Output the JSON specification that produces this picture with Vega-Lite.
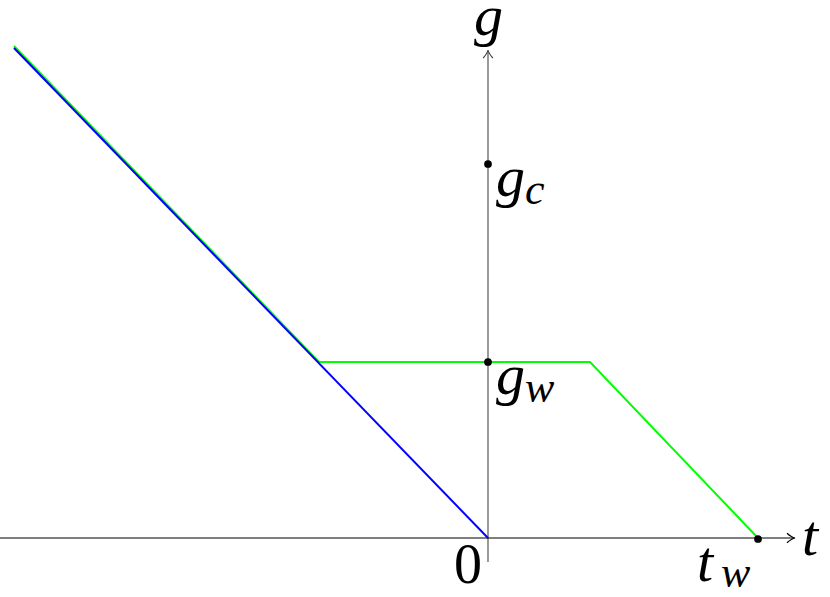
{
  "$schema": "https://vega.github.io/schema/vega-lite/v6.json",
  "width": 830,
  "height": 597,
  "autosize": {"type": "none"},
  "padding": 0,
  "background": "white",
  "config": {"view": {"stroke": null}},
  "datasets": {
    "lines": [
      {"series": "green", "step": 1, "t": -4.74, "g": 4.92},
      {"series": "green", "step": 2, "t": -1.69, "g": 1.76},
      {"series": "green", "step": 3, "t": 1.02, "g": 1.76},
      {"series": "green", "step": 4, "t": 2.70, "g": 0.0},
      {"series": "blue", "step": 1, "t": -4.74, "g": 4.90},
      {"series": "blue", "step": 2, "t": 0.0, "g": 0.0}
    ],
    "axes": [
      {"axis": "t", "t": -4.88, "t2": 3.06, "g": 0.0, "g2": 0.0},
      {"axis": "g", "t": 0.0, "t2": 0.0, "g": -0.24, "g2": 4.86}
    ],
    "arrows": [
      {"axis": "t", "t": 3.07, "g": 0.0},
      {"axis": "g", "t": 0.0, "g": 4.88}
    ],
    "points": [
      {"name": "g_c", "t": 0.0, "g": 3.74},
      {"name": "g_w", "t": 0.0, "g": 1.76},
      {"name": "t_w", "t": 2.70, "g": -0.01}
    ],
    "labels": [
      {"text": "g", "t": -0.14, "g": 5.03},
      {"text": "t", "t": 3.14, "g": -0.17},
      {"text": "g", "t": 0.08, "g": 3.42},
      {"text": "g", "t": 0.08, "g": 1.44},
      {"text": "t", "t": 2.09, "g": -0.43}
    ],
    "subs": [
      {"text": "c", "t": 0.37, "g": 3.34},
      {"text": "w", "t": 0.37, "g": 1.36},
      {"text": "w", "t": 2.33, "g": -0.49}
    ],
    "upright": [
      {"text": "0", "t": -0.34, "g": -0.45}
    ]
  },
  "layer": [
    {
      "data": {"name": "axes"},
      "transform": [{"filter": "datum.axis == 'g'"}],
      "mark": {"type": "rule", "color": "#808080", "strokeWidth": 1.6},
      "encoding": {
        "x": {"field": "t", "type": "quantitative", "scale": {"domain": [-4.88, 3.42], "nice": false, "zero": false}, "axis": null},
        "x2": {"field": "t2"},
        "y": {"field": "g", "type": "quantitative", "scale": {"domain": [-0.59, 5.38], "nice": false, "zero": false}, "axis": null},
        "y2": {"field": "g2"}
      }
    },
    {
      "data": {"name": "axes"},
      "transform": [{"filter": "datum.axis == 't'"}],
      "mark": {"type": "rule", "color": "#000000", "strokeWidth": 1.2},
      "encoding": {
        "x": {"field": "t", "type": "quantitative", "scale": {"domain": [-4.88, 3.42], "nice": false, "zero": false}, "axis": null},
        "x2": {"field": "t2"},
        "y": {"field": "g", "type": "quantitative", "scale": {"domain": [-0.59, 5.38], "nice": false, "zero": false}, "axis": null},
        "y2": {"field": "g2"}
      }
    },
    {
      "data": {"name": "arrows"},
      "transform": [{"filter": "datum.axis == 't'"}],
      "mark": {"type": "point", "shape": "M -1 -0.6 C -0.6 -0.25 -0.25 -0.05 0 0 C -0.25 0.05 -0.6 0.25 -1 0.6", "filled": false, "stroke": "#000000", "strokeWidth": 1.2, "size": 256, "opacity": 1},
      "encoding": {
        "x": {"field": "t", "type": "quantitative", "scale": {"domain": [-4.88, 3.42], "nice": false, "zero": false}, "axis": null},
        "y": {"field": "g", "type": "quantitative", "scale": {"domain": [-0.59, 5.38], "nice": false, "zero": false}, "axis": null}
      }
    },
    {
      "data": {"name": "arrows"},
      "transform": [{"filter": "datum.axis == 'g'"}],
      "mark": {"type": "point", "shape": "M -0.6 1 C -0.25 0.6 -0.05 0.25 0 0 C 0.05 0.25 0.25 0.6 0.6 1", "filled": false, "stroke": "#404040", "strokeWidth": 1.2, "size": 256, "opacity": 1},
      "encoding": {
        "x": {"field": "t", "type": "quantitative", "scale": {"domain": [-4.88, 3.42], "nice": false, "zero": false}, "axis": null},
        "y": {"field": "g", "type": "quantitative", "scale": {"domain": [-0.59, 5.38], "nice": false, "zero": false}, "axis": null}
      }
    },
    {
      "data": {"name": "lines"},
      "transform": [{"filter": "datum.series == 'green'"}],
      "mark": {"type": "line", "color": "#00ff00", "strokeWidth": 2},
      "encoding": {
        "x": {"field": "t", "type": "quantitative", "scale": {"domain": [-4.88, 3.42], "nice": false, "zero": false}, "axis": null},
        "y": {"field": "g", "type": "quantitative", "scale": {"domain": [-0.59, 5.38], "nice": false, "zero": false}, "axis": null},
        "order": {"field": "step", "type": "quantitative"}
      }
    },
    {
      "data": {"name": "lines"},
      "transform": [{"filter": "datum.series == 'blue'"}],
      "mark": {"type": "line", "color": "#0000ff", "strokeWidth": 2},
      "encoding": {
        "x": {"field": "t", "type": "quantitative", "scale": {"domain": [-4.88, 3.42], "nice": false, "zero": false}, "axis": null},
        "y": {"field": "g", "type": "quantitative", "scale": {"domain": [-0.59, 5.38], "nice": false, "zero": false}, "axis": null},
        "order": {"field": "step", "type": "quantitative"}
      }
    },
    {
      "data": {"name": "points"},
      "mark": {"type": "circle", "color": "#000000", "size": 60, "opacity": 1},
      "encoding": {
        "x": {"field": "t", "type": "quantitative", "scale": {"domain": [-4.88, 3.42], "nice": false, "zero": false}, "axis": null},
        "y": {"field": "g", "type": "quantitative", "scale": {"domain": [-0.59, 5.38], "nice": false, "zero": false}, "axis": null}
      }
    },
    {
      "data": {"name": "labels"},
      "mark": {"type": "text", "font": "Liberation Serif", "fontStyle": "italic", "fontSize": 58, "align": "left", "baseline": "alphabetic", "color": "#000000"},
      "encoding": {
        "x": {"field": "t", "type": "quantitative", "scale": {"domain": [-4.88, 3.42], "nice": false, "zero": false}, "axis": null},
        "y": {"field": "g", "type": "quantitative", "scale": {"domain": [-0.59, 5.38], "nice": false, "zero": false}, "axis": null},
        "text": {"field": "text"}
      }
    },
    {
      "data": {"name": "subs"},
      "mark": {"type": "text", "font": "Liberation Serif", "fontStyle": "italic", "fontSize": 44, "align": "left", "baseline": "alphabetic", "color": "#000000"},
      "encoding": {
        "x": {"field": "t", "type": "quantitative", "scale": {"domain": [-4.88, 3.42], "nice": false, "zero": false}, "axis": null},
        "y": {"field": "g", "type": "quantitative", "scale": {"domain": [-0.59, 5.38], "nice": false, "zero": false}, "axis": null},
        "text": {"field": "text"}
      }
    },
    {
      "data": {"name": "upright"},
      "mark": {"type": "text", "font": "Liberation Serif", "fontSize": 56, "align": "left", "baseline": "alphabetic", "color": "#000000"},
      "encoding": {
        "x": {"field": "t", "type": "quantitative", "scale": {"domain": [-4.88, 3.42], "nice": false, "zero": false}, "axis": null},
        "y": {"field": "g", "type": "quantitative", "scale": {"domain": [-0.59, 5.38], "nice": false, "zero": false}, "axis": null},
        "text": {"field": "text"}
      }
    }
  ]
}
